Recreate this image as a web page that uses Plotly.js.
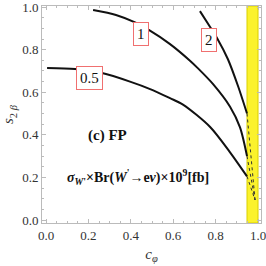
<!DOCTYPE html>
<html>
<head>
<meta charset="utf-8">
<script src="https://cdn.plot.ly/plotly-3.0.1.min.js"></script>
<style>html,body{margin:0;padding:0;background:#fff}#chart{width:266px;height:266px}</style>
</head>
<body>
<div id="chart"></div>
<script>
// Contour 0.5
var c05 = [0.005, 0.137, 0.264, 0.396, 0.491, 0.585, 0.646, 0.774, 0.868, 0.948];
var s05 = [0.714, 0.709, 0.690, 0.650, 0.615, 0.572, 0.542, 0.437, 0.318, 0.205];
// Contour 1
var c1 = [0.222, 0.33, 0.42, 0.481, 0.585, 0.679, 0.717, 0.788, 0.868, 0.915, 0.948];
var s1 = [0.986, 0.963, 0.928, 0.895, 0.826, 0.748, 0.712, 0.638, 0.532, 0.435, 0.30];
// Contour 2
var c2 = [0.726, 0.774, 0.807, 0.858, 0.906, 0.948];
var s2 = [0.981, 0.906, 0.854, 0.755, 0.628, 0.50];
// Dashed continuations inside the band
var dash05c = [0.948, 0.986], dash05s = [0.205, 0.094];
var dash1c = [0.948, 0.986], dash1s = [0.30, 0.094];
var dash2c = [0.948, 0.986], dash2s = [0.50, 0.094];
// Excluded band
var bandX = [0.948, 1.0, 1.0, 0.948, 0.948];
var bandY = [-0.014, -0.014, 1.005, 1.005, -0.014];
// Contour labels
var labelText = ["0.5", "1", "2"];
var labelC = [0.203, 0.45, 0.769];
var labelS = [0.667, 0.873, 0.845];
var tickVals = [0, 0.2, 0.4, 0.6, 0.8, 1.0];
var tickText = ["0.0", "0.2", "0.4", "0.6", "0.8", "1.0"];

var serif = "Liberation Serif, Times New Roman, serif";
var traces = [
  {x: bandX, y: bandY, mode: 'lines', fill: 'toself', fillcolor: '#fbf22c', line: {color: '#d9cf00', width: 1}, hoverinfo: 'skip'},
  {x: c05, y: s05, mode: 'lines', line: {color: '#111', width: 2, shape: 'spline', smoothing: 0.8}},
  {x: c1, y: s1, mode: 'lines', line: {color: '#111', width: 2, shape: 'spline', smoothing: 0.8}},
  {x: c2, y: s2, mode: 'lines', line: {color: '#111', width: 2, shape: 'spline', smoothing: 0.8}},
  {x: dash05c, y: dash05s, mode: 'lines', line: {color: '#333', width: 1, dash: 'dot'}},
  {x: dash1c, y: dash1s, mode: 'lines', line: {color: '#333', width: 1, dash: 'dot'}},
  {x: dash2c, y: dash2s, mode: 'lines', line: {color: '#333', width: 1, dash: 'dot'}}
];

var annotations = labelText.map(function (t, i) {
  return {x: labelC[i], y: labelS[i], xref: 'x', yref: 'y', text: t, showarrow: false,
    font: {family: serif, size: 15, color: '#111'}, bgcolor: '#fff', bordercolor: '#f07070',
    borderwidth: 1, borderpad: 3};
});
annotations.push({x: 0.288, y: 0.399, xref: 'x', yref: 'y', text: '<b>(c) FP</b>', showarrow: false,
  font: {family: serif, size: 15, color: '#111'}});
annotations.push({x: 0.434, y: 0.20, xref: 'x', yref: 'y',
  text: "<b><i>σ</i><sub><i>W</i>'</sub>×Br(<i>W</i><sup>'</sup>→e<i>ν</i>)×10<sup>9</sup>[fb]</b>",
  showarrow: false, font: {family: serif, size: 14, color: '#111'}});

var axisCommon = {
  showgrid: false, zeroline: false, showline: true, linecolor: '#bbb', linewidth: 1,
  mirror: 'allticks', ticks: 'inside', ticklen: 4, tickcolor: '#bbb', tickwidth: 1,
  tickvals: tickVals, ticktext: tickText, ticklabeloverflow: 'allow',
  tickfont: {family: serif, size: 13, color: '#333'},
  minor: {dtick: 0.05, tick0: 0, ticks: 'inside', ticklen: 2, tickcolor: '#bbb'}
};

var layout = {
  width: 266, height: 266, margin: {l: 42, r: 5, t: 6, b: 43},
  paper_bgcolor: '#fff', plot_bgcolor: '#fff', showlegend: false,
  xaxis: Object.assign({}, axisCommon, {range: [-0.019, 1.014],
    title: {text: '<i>c</i><sub><i>φ</i></sub>', font: {family: serif, size: 15, color: '#333'}, standoff: 6}}),
  yaxis: Object.assign({}, axisCommon, {range: [-0.014, 1.005],
    title: {text: '<i>s</i><sub>2 <i>β</i></sub>', font: {family: serif, size: 15, color: '#333'}, standoff: 4}}),
  annotations: annotations
};

Plotly.newPlot('chart', traces, layout, {staticPlot: true, displayModeBar: false});
</script>
</body>
</html>
